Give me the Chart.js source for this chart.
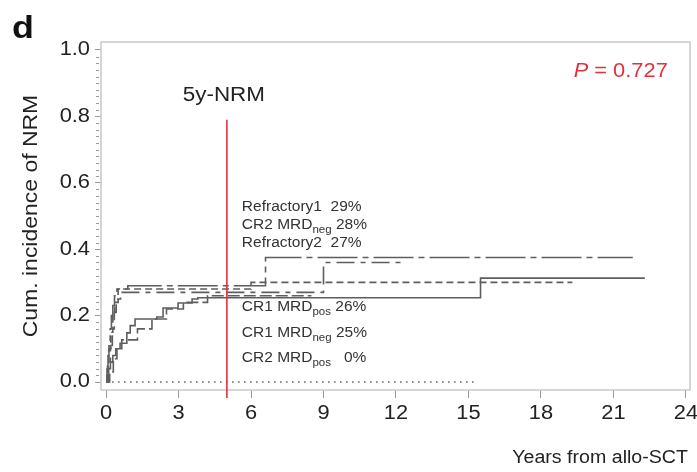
<!DOCTYPE html>
<html>
<head>
<meta charset="utf-8">
<script src="https://cdn.jsdelivr.net/npm/chart.js@4.4.1/dist/chart.umd.min.js"></script>
<style>
  html, body { margin: 0; padding: 0; background: #fff; }
  #wrap { width: 697px; height: 472px; }
</style>
</head>
<body>
<div id="wrap"><canvas id="nrm" width="697" height="472"></canvas></div>
<script>
// Cumulative incidence of non-relapse mortality by disease status at allo-SCT
const xTicks = [0, 3, 6, 9, 12, 15, 18, 21, 24];
const yTicks = [0, 0.2, 0.4, 0.6, 0.8, 1.0];

const groupNames = ['Refractory1', 'CR2 MRD', 'Refractory2', 'CR1 MRD', 'CR1 MRD', 'CR2 MRD'];
const groupSubs = ['', 'neg', '', 'pos', 'neg', 'pos'];
const nrm5y = [29, 28, 27, 26, 25, 0];
const pValue = '0.727';
const landmarkYear = 5;

// step curves: event times (years) and cumulative incidence after each step
const refr1Years = [0, 0.04, 0.08, 0.12, 0.17, 0.22, 0.28, 0.35, 0.45, 0.9, 6.6, 21.8];
const refr1Inc   = [0, 0.04, 0.08, 0.12, 0.16, 0.20, 0.23, 0.26, 0.28, 0.29, 0.375, 0.375];

const cr2NegYears = [0, 0.06, 0.12, 0.2, 0.28, 0.36, 0.5, 6.0, 19.3];
const cr2NegInc   = [0, 0.05, 0.10, 0.15, 0.20, 0.24, 0.28, 0.30, 0.30];

const refr2Years = [0, 0.1, 0.18, 0.26, 0.34, 0.42, 0.6, 9.0, 12.4];
const refr2Inc   = [0, 0.06, 0.11, 0.16, 0.21, 0.25, 0.27, 0.36, 0.36];

const cr1PosYears = [0, 0.15, 0.3, 0.45, 0.65, 1.3, 1.9, 2.5, 3.2, 4.2, 8.5];
const cr1PosInc   = [0, 0.03, 0.07, 0.10, 0.127, 0.16, 0.19, 0.22, 0.24, 0.26, 0.26];

const cr1NegYears = [0, 0.04, 0.1, 0.18, 0.28, 0.4, 0.58, 0.86, 1.0, 1.2, 2.1, 2.36, 2.98, 3.56, 3.8, 15.5, 22.3];
const cr1NegInc   = [0, 0.02, 0.04, 0.06, 0.08, 0.10, 0.117, 0.148, 0.17, 0.19, 0.196, 0.223, 0.238, 0.25, 0.254, 0.313, 0.313];

const cr2PosYears = [0, 15.35];
const cr2PosInc   = [0, 0];

const FONT = '"Liberation Sans", Arial, Helvetica, sans-serif';
const LINE = '#5e5e5e';
const RED = '#e0323c';
const INK = '#222';
const WIDEN = 1.12;   // the figure's type runs a little wide

function toPoints(xs, ys) {
  return xs.map((x, i) => ({ x: x, y: ys[i] }));
}

function curve(label, xs, ys, dash) {
  return {
    label: label,
    data: toPoints(xs, ys),
    stepped: true,
    borderColor: LINE,
    borderWidth: 1.6,
    borderDash: dash,
    pointRadius: 0,
    fill: false
  };
}

// draws text widened horizontally; returns drawn width
function wideText(ctx, text, x, y, font, align, sx) {
  ctx.font = font;
  const w = ctx.measureText(text).width * sx;
  let left = x;
  if (align === 'center') left = x - w / 2;
  else if (align === 'right') left = x - w;
  ctx.save();
  ctx.translate(left, y);
  ctx.scale(sx, 1);
  ctx.textAlign = 'left';
  ctx.fillText(text, 0, 0);
  ctx.restore();
  return w;
}

const decorations = {
  id: 'decorations',
  afterDatasetsDraw(chart) {
    const ctx = chart.ctx;
    const area = chart.chartArea;
    const xs = chart.scales.x;
    const ys = chart.scales.y;
    ctx.save();
    ctx.textBaseline = 'middle';

    // frame
    ctx.strokeStyle = '#c8c8c8';
    ctx.lineWidth = 1.5;
    ctx.strokeRect(area.left, area.top, area.right - area.left, area.bottom - area.top);

    // minor ticks on the y axis
    ctx.strokeStyle = '#9a9a9a';
    ctx.lineWidth = 1;
    for (let i = 0; i <= 50; i++) {
      if (i % 10 === 0) continue;
      const py = Math.round(ys.getPixelForValue(i / 50)) + 0.5;
      ctx.beginPath();
      ctx.moveTo(area.left - 5, py);
      ctx.lineTo(area.left - 2, py);
      ctx.stroke();
    }

    // tick labels
    ctx.fillStyle = INK;
    xs.ticks.forEach(t => {
      wideText(ctx, String(t.value), xs.getPixelForValue(t.value), area.bottom + 24, '19.5px ' + FONT, 'center', WIDEN);
    });
    ys.ticks.forEach(t => {
      wideText(ctx, t.value.toFixed(1), area.left - 11, ys.getPixelForValue(t.value), '19.5px ' + FONT, 'right', WIDEN);
    });

    // 5-year landmark
    const lx = xs.getPixelForValue(landmarkYear);
    ctx.strokeStyle = RED;
    ctx.lineWidth = 1.6;
    ctx.beginPath();
    ctx.moveTo(lx, ys.getPixelForValue(0.79));
    ctx.lineTo(lx, area.bottom + 8);
    ctx.stroke();

    wideText(ctx, '5y-NRM', lx - 3, ys.getPixelForValue(0.864), '20px ' + FONT, 'center', WIDEN);

    // P value
    ctx.fillStyle = RED;
    const pRight = xs.getPixelForValue(23.25);
    const pY = ys.getPixelForValue(0.935);
    const restW = wideText(ctx, ' = ' + pValue, pRight, pY, '19.5px ' + FONT, 'right', WIDEN);
    wideText(ctx, 'P', pRight - restW, pY, 'italic 19.5px ' + FONT, 'right', WIDEN);

    // group labels with 5-year estimates
    const labelY = [0.528, 0.473, 0.419, 0.227, 0.148, 0.072];
    const lx0 = xs.getPixelForValue(5.62);
    ctx.fillStyle = '#333';
    ctx.textAlign = 'left';
    groupNames.forEach((name, i) => {
      const py = ys.getPixelForValue(labelY[i]);
      ctx.font = '15.5px ' + FONT;
      ctx.fillText(name, lx0, py);
      let cx = lx0 + ctx.measureText(name).width;
      if (groupSubs[i]) {
        ctx.font = '11.5px ' + FONT;
        ctx.fillText(groupSubs[i], cx, py + 5);
        cx += ctx.measureText(groupSubs[i]).width;
      }
      ctx.font = '15.5px ' + FONT;
      const pct = nrm5y[i] + '%';
      const gap = groupSubs[i] ? ctx.measureText(' ').width : ctx.measureText('  ').width;
      const pad = ctx.measureText('00%').width - ctx.measureText(pct).width;
      ctx.fillText(pct, cx + gap + pad, py);
    });

    // axis titles
    ctx.fillStyle = INK;
    ctx.save();
    ctx.translate(31, (area.top + area.bottom) / 2);
    ctx.rotate(-Math.PI / 2);
    wideText(ctx, 'Cum. incidence of NRM', 0, 0, '20.5px ' + FONT, 'center', WIDEN);
    ctx.restore();

    wideText(ctx, 'Years from allo-SCT', 688, 458, '17.5px ' + FONT, 'right', WIDEN);

    // panel letter
    ctx.fillStyle = '#111';
    ctx.textBaseline = 'alphabetic';
    wideText(ctx, 'd', 12, 38, 'bold 32px ' + FONT, 'left', WIDEN);

    ctx.restore();
  }
};

new Chart(document.getElementById('nrm'), {
  type: 'line',
  data: {
    datasets: [
      curve('Refractory1', refr1Years, refr1Inc, [40, 5, 6, 5]),
      curve('CR2 MRDneg', cr2NegYears, cr2NegInc, [7, 4]),
      curve('Refractory2', refr2Years, refr2Inc, [18, 6, 5, 6]),
      curve('CR1 MRDpos', cr1PosYears, cr1PosInc, [12, 4]),
      curve('CR1 MRDneg', cr1NegYears, cr1NegInc, []),
      curve('CR2 MRDpos', cr2PosYears, cr2PosInc, [1.5, 4.5])
    ]
  },
  options: {
    responsive: false,
    animation: false,
    devicePixelRatio: 1,
    layout: { padding: { left: 0, top: 42, right: 7, bottom: 0 } },
    plugins: {
      legend: { display: false },
      tooltip: { enabled: false }
    },
    scales: {
      x: {
        type: 'linear',
        min: -0.21,
        max: 24.17,
        afterBuildTicks: s => { s.ticks = xTicks.map(v => ({ value: v })); },
        afterFit: s => { s.height = 82; },
        border: { display: false },
        grid: { drawOnChartArea: false, drawTicks: true, tickLength: 8, color: '#9a9a9a', lineWidth: 1 },
        ticks: { display: false }
      },
      y: {
        type: 'linear',
        min: -0.024,
        max: 1.024,
        afterBuildTicks: s => { s.ticks = yTicks.map(v => ({ value: v })); },
        afterFit: s => { s.width = 101; },
        border: { display: false },
        grid: { drawOnChartArea: false, drawTicks: true, tickLength: 6, color: '#9a9a9a', lineWidth: 1 },
        ticks: { display: false }
      }
    }
  },
  plugins: [decorations]
});
</script>
</body>
</html>
